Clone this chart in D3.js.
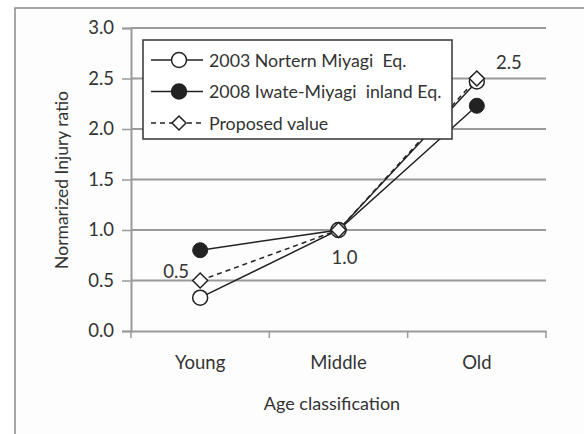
<!DOCTYPE html>
<html>
<head>
<meta charset="utf-8">
<script src="https://cdn.jsdelivr.net/npm/d3@7"></script>
<style>
  body { margin: 0; background: #fff; }
  text { font-family: Lato, "Open Sans", sans-serif; fill: #333; }
</style>
</head>
<body>
<svg id="chart" width="584" height="434"></svg>
<script>
const categories = ["Young", "Middle", "Old"];
const yTicks = [0, 0.5, 1.0, 1.5, 2.0, 2.5, 3.0];
const nortern2003 = [0.33, 1.0, 2.47];
const iwate2008 = [0.8, 1.0, 2.23];
const proposed = [0.5, 1.0, 2.5];
const proposedLabels = ["0.5", "1.0", "2.5"];
const seriesNames = ["2003 Nortern Miyagi  Eq.", "2008 Iwate-Miyagi  inland Eq.", "Proposed value"];

const svg = d3.select("#chart");
const m = { left: 131, top: 28, right: 546, bottom: 331 };
const fs = 18.5;

svg.append("rect")
  .attr("x", 15).attr("y", 8)
  .attr("width", 600).attr("height", 500)
  .attr("fill", "#fdfdfd")
  .attr("stroke", "#888").attr("stroke-width", 1.5);

const x = d3.scaleBand().domain(categories).range([m.left, m.right]);
const y = d3.scaleLinear().domain([0, 3]).range([m.bottom, m.top]);

// gridlines
svg.append("g")
  .selectAll("line")
  .data(yTicks.filter((d) => d > 0))
  .enter()
  .append("line")
  .attr("x1", m.left).attr("x2", m.right)
  .attr("y1", (d) => y(d)).attr("y2", (d) => y(d))
  .attr("stroke", "#9a9a9a").attr("stroke-width", 2);

// y axis
const yAxis = svg.append("g")
  .attr("transform", "translate(" + m.left + ",0)")
  .call(d3.axisLeft(y).tickValues(yTicks).tickFormat(d3.format(".1f")).tickSize(9).tickPadding(8));
yAxis.select(".domain").attr("stroke", "#9a9a9a").attr("stroke-width", 2);
yAxis.selectAll(".tick line").attr("stroke", "#9a9a9a").attr("stroke-width", 1.5);
yAxis.selectAll("text").attr("font-size", fs).attr("fill", "#333").attr("font-family", "Lato");

// x axis
const xAxis = svg.append("g")
  .attr("transform", "translate(0," + m.bottom + ")")
  .call(d3.axisBottom(x).tickSize(0).tickPadding(25));
xAxis.select(".domain").attr("stroke", "#9a9a9a").attr("stroke-width", 2);
xAxis.selectAll("text").attr("font-size", fs).attr("fill", "#333").attr("font-family", "Lato");
xAxis.selectAll(".sep")
  .data([0, 1, 2, 3])
  .enter()
  .append("line")
  .attr("x1", (d) => m.left + d * x.step())
  .attr("x2", (d) => m.left + d * x.step())
  .attr("y1", 0).attr("y2", 7)
  .attr("stroke", "#9a9a9a").attr("stroke-width", 1.5);

// axis titles
svg.append("text")
  .attr("transform", "translate(68,180) rotate(-90)")
  .attr("text-anchor", "middle")
  .attr("font-size", 17.5)
  .text("Normarized Injury ratio");
svg.append("text")
  .attr("x", 332).attr("y", 410)
  .attr("text-anchor", "middle")
  .attr("font-size", 18)
  .text("Age classification");

const cx = (i) => x(categories[i]) + x.bandwidth() / 2;
const line = d3.line().x((d, i) => cx(i)).y((d) => y(d));
const diamond = (s) => "M0," + -s + "L" + s + ",0L0," + s + "L" + -s + ",0Z";

// series lines
svg.append("path").datum(iwate2008).attr("d", line)
  .attr("fill", "none").attr("stroke", "#222").attr("stroke-width", 1.5);
svg.append("path").datum(nortern2003).attr("d", line)
  .attr("fill", "none").attr("stroke", "#222").attr("stroke-width", 1.5);
svg.append("path").datum(proposed).attr("d", line)
  .attr("fill", "none").attr("stroke", "#222").attr("stroke-width", 1.5)
  .attr("stroke-dasharray", "5,4");

// markers
svg.append("g").selectAll("circle").data(iwate2008).enter().append("circle")
  .attr("cx", (d, i) => cx(i)).attr("cy", (d) => y(d)).attr("r", 7.5)
  .attr("fill", "#222").attr("stroke", "#222");
svg.append("g").selectAll("circle").data(nortern2003).enter().append("circle")
  .attr("cx", (d, i) => cx(i)).attr("cy", (d) => y(d)).attr("r", 7.5)
  .attr("fill", "#fff").attr("stroke", "#222").attr("stroke-width", 1.5);
svg.append("g").selectAll("path").data(proposed).enter().append("path")
  .attr("d", diamond(7.5))
  .attr("transform", (d, i) => "translate(" + cx(i) + "," + y(d) + ")")
  .attr("fill", "#fff").attr("stroke", "#222").attr("stroke-width", 1.5);

// proposed value labels
const labelOffset = [[-24, -3], [6, 34], [32, -10]];
svg.append("g").selectAll("text").data(proposed).enter().append("text")
  .attr("x", (d, i) => cx(i) + labelOffset[i][0])
  .attr("y", (d, i) => y(d) + labelOffset[i][1])
  .attr("text-anchor", "middle")
  .attr("font-size", fs)
  .text((d, i) => proposedLabels[i]);

// legend
const legend = svg.append("g").attr("transform", "translate(143,40)");
legend.append("rect")
  .attr("width", 309).attr("height", 99)
  .attr("fill", "#fff").attr("stroke", "#333").attr("stroke-width", 1.5);
const rows = legend.selectAll("g").data(seriesNames).enter().append("g")
  .attr("transform", (d, i) => "translate(0," + (20 + i * 31.5) + ")");
rows.append("line")
  .attr("x1", 8).attr("x2", 60).attr("y1", 0).attr("y2", 0)
  .attr("stroke", "#222").attr("stroke-width", 1.5)
  .attr("stroke-dasharray", (d, i) => (i === 2 ? "5,4" : null));
rows.filter((d, i) => i < 2).append("circle")
  .attr("cx", 36).attr("cy", 0).attr("r", 7.5)
  .attr("fill", (d, i) => (i === 1 ? "#222" : "#fff"))
  .attr("stroke", "#222").attr("stroke-width", 1.5);
rows.filter((d, i) => i === 2).append("path")
  .attr("d", diamond(7))
  .attr("transform", "translate(36,0)")
  .attr("fill", "#fff").attr("stroke", "#222").attr("stroke-width", 1.5);
rows.append("text")
  .attr("x", 66).attr("y", 6.5)
  .attr("font-size", 17.8)
  .attr("xml:space", "preserve")
  .style("white-space", "pre")
  .text((d) => d);
</script>
</body>
</html>
